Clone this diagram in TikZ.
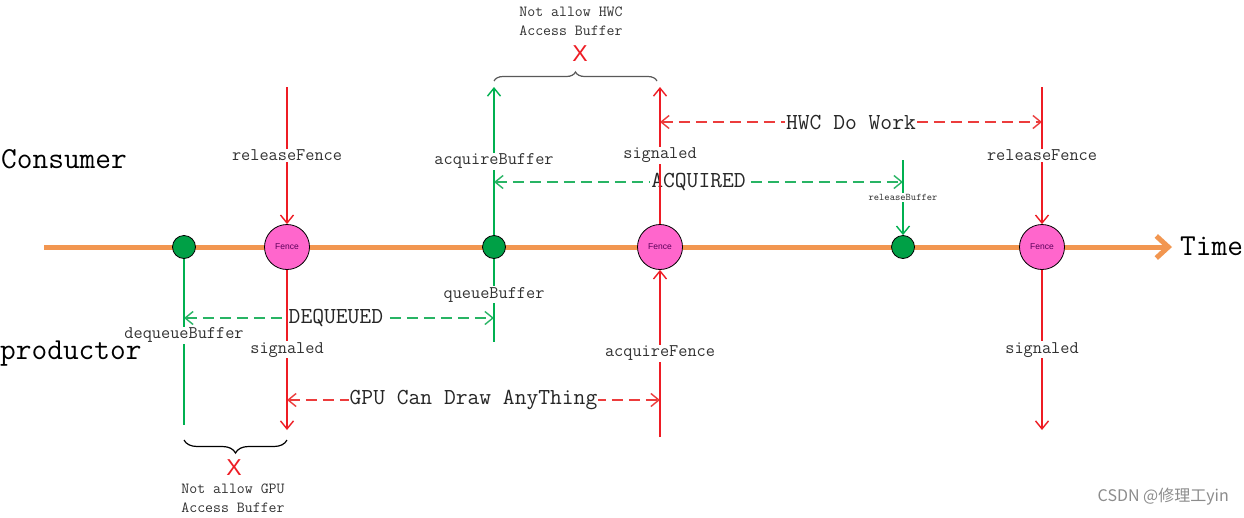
\documentclass[tikz,border=0pt]{standalone}
\usepackage{fontspec}
\setmainfont{Latin Modern Mono}
\newfontfamily\sansf{Liberation Sans}
\newfontfamily\cjkf{Noto Sans CJK SC}
\usetikzlibrary{arrows.meta,decorations.pathreplacing}
\definecolor{tline}{RGB}{242,150,80}
\definecolor{rline}{RGB}{238,28,36}
\definecolor{gline}{RGB}{0,176,80}
\definecolor{gdash}{RGB}{40,180,100}
\definecolor{rdash}{RGB}{236,60,60}
\definecolor{gdot}{RGB}{0,160,70}
\definecolor{fencefill}{RGB}{255,102,204}
\definecolor{fencetext}{RGB}{90,0,90}
\definecolor{lbltext}{RGB}{50,50,50}
\tikzset{
  x=1pt,y=-1pt,
  tip/.style={-{Straight Barb[length=8pt,width=13pt]}},
  tiptwo/.style={{Straight Barb[length=8pt,width=13pt]}-{Straight Barb[length=8pt,width=13pt]}},
  redv/.style={draw=rline,line width=1.4pt},
  greenv/.style={draw=gline,line width=1.4pt},
  gdashed/.style={draw=gdash,line width=1.4pt,dash pattern=on 11pt off 6pt,tiptwo},
  rdashed/.style={draw=rdash,line width=1.4pt,dash pattern=on 11pt off 6pt,tiptwo},
  lbl/.style={fill=white,inner sep=1pt,text=lbltext,font=\fontsize{17.8}{19}\selectfont},
  big/.style={inner sep=0pt,font=\fontsize{30.5}{32}\selectfont},
  mid/.style={fill=white,inner sep=1pt,text=black!85,font=\fontsize{22.9}{24}\selectfont},
  note/.style={inner sep=0pt,align=center,text=lbltext,font=\fontsize{15.4}{19}\selectfont},
  gdotst/.style={circle,draw=black,fill=gdot,line width=0.8pt,minimum size=23pt,inner sep=0pt},
  fencest/.style={circle,draw=black,fill=fencefill,line width=0.8pt,minimum size=45pt,inner sep=0pt,font=\sansf\fontsize{8.5}{9}\selectfont,text=fencetext},
  bracetop/.style={decorate,decoration={brace,amplitude=9pt},line width=1.2pt,draw=black!65},
  bracebot/.style={decorate,decoration={brace,amplitude=13pt},line width=1.2pt,draw=black},
  xmark/.style={text=rline,inner sep=0pt,font=\sansf\fontsize{23}{23}\selectfont}
}
\begin{document}
\begin{tikzpicture}
\useasboundingbox[fill=white] (0,0) rectangle (1244,517);
% timeline
\coordinate (tl0) at (44,247);
\coordinate (tl1) at (1172,247);
\draw[tline,line width=5pt,-{Straight Barb[length=12pt,width=22pt]}] (tl0) -- (tl1);
\node[big,anchor=west] (time) at (1180,246) {Time};
\node[big,anchor=west] (consumer) at (1,159) {Consumer};
\node[big,anchor=west] (productor) at (0,354) {productor};
% dots and fences
\node[gdotst] (d1) at (184,247) {};
\node[gdotst] (d2) at (494,247) {};
\node[gdotst] (d3) at (903,247) {};
\node[fencest] (f1) at (287,247) {Fence};
\node[fencest] (f2) at (660,247) {Fence};
\node[fencest] (f3) at (1042,247) {Fence};
% coordinates
\coordinate (r1t) at (287,87);
\coordinate (r1b) at (287,430);
\coordinate (r2t) at (660,87);
\coordinate (r2b) at (660,437);
\coordinate (r3t) at (1042,87);
\coordinate (r3b) at (1042,430);
\coordinate (g1b) at (184,425);
\coordinate (g2t) at (494,87);
\coordinate (g2b) at (494,342);
\coordinate (g3t) at (903,160);
\coordinate (deqL) at (184,318);
\coordinate (deqR) at (494,318);
\coordinate (acqL) at (494,182);
\coordinate (acqR) at (903,182);
\coordinate (hwcL) at (660,122);
\coordinate (hwcR) at (1042,122);
\coordinate (gpuL) at (287,400);
\coordinate (gpuR) at (660,400);
% dashed spans
\draw[gdashed] (deqL) -- node[mid,pos=0.49] (deq) {DEQUEUED} (deqR);
\draw[gdashed] (acqL) -- node[mid,pos=0.5] (acq) {ACQUIRED} (acqR);
\draw[rdashed] (hwcL) -- node[mid,pos=0.5] (hwc) {HWC Do Work} (hwcR);
\draw[rdashed] (gpuL) -- node[mid,pos=0.5] (gpu) {GPU Can Draw AnyThing} (gpuR);
% red verticals
\draw[redv,tip] (r1t) -- node[lbl,pos=0.5] (l1) {releaseFence} (f1);
\draw[redv,tip] (f1) -- node[lbl,pos=0.5] (l2) {signaled} (r1b);
\draw[redv,tip] (r2b) -- node[lbl,pos=0.5] (l3) {acquireFence} (f2);
\draw[redv,tip] (f2) -- node[lbl,pos=0.5] (l4) {signaled} (r2t);
\draw[redv,tip] (r3t) -- node[lbl,pos=0.5] (l5) {releaseFence} (f3);
\draw[redv,tip] (f3) -- node[lbl,pos=0.5] (l6) {signaled} (r3b);
% green verticals
\draw[greenv] (d1) -- node[lbl,pos=0.46] (l7) {dequeueBuffer} (g1b);
\draw[greenv,tip] (d2) -- node[lbl,pos=0.5] (l8) {acquireBuffer} (g2t);
\draw[greenv] (d2) -- node[lbl,pos=0.43] (l9) {queueBuffer} (g2b);
\draw[greenv,tip] (g3t) -- node[lbl,pos=0.5,font=\fontsize{10.1}{11}\selectfont] (l10) {releaseBuffer} (d3);
% braces
\coordinate (bt0) at (494,81);
\coordinate (bt1) at (657,81);
\draw[bracetop] (bt0) -- (bt1);
\coordinate (bb0) at (287,440);
\coordinate (bb1) at (184,440);
\draw[bracebot] (bb0) -- (bb1);
\node[xmark] (x1) at (580,54) {X};
\node[xmark] (x2) at (234,468) {X};
\node[note] (n1) at (571,21) {Not allow HWC\\Access Buffer};
\node[note] (n2) at (233,498) {Not allow GPU\\Access Buffer};
% watermark
\node[inner sep=0pt,text=black!45,font=\cjkf\fontsize{16}{18}\selectfont,anchor=east] (wm) at (1229,497) {CSDN @修理工yin};
\end{tikzpicture}
\end{document}
